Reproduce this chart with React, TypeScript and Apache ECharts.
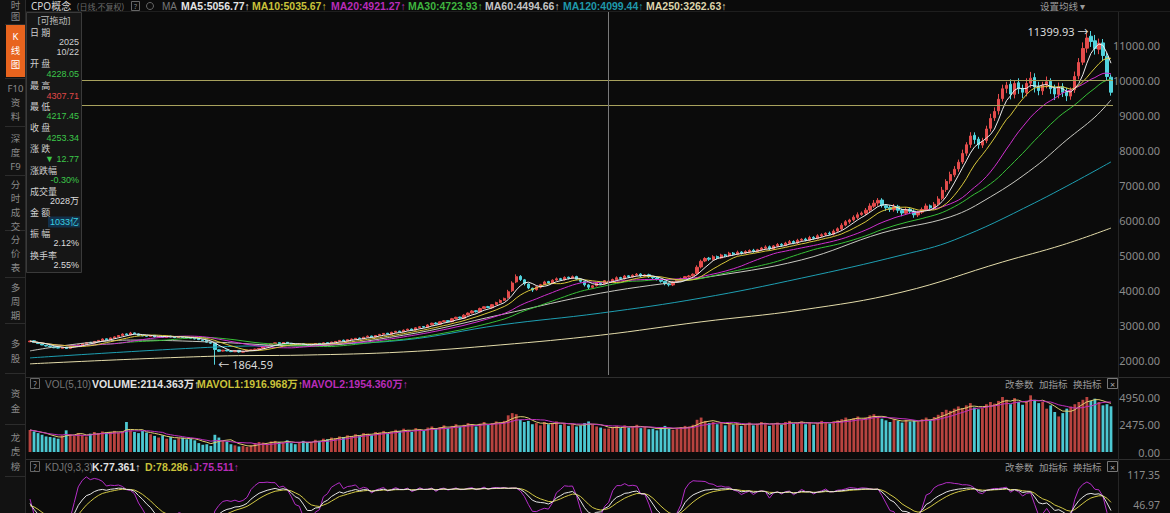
import React, { useEffect, useRef } from "react";
import * as echarts from "echarts";

// ---------- data ----------
const closes = [
  2540, 2500, 2470, 2430, 2400, 2380, 2350, 2340, 2360, 2330,
  2380, 2420, 2430, 2470, 2500, 2490, 2530, 2560, 2600, 2580,
  2630, 2660, 2700, 2740, 2720, 2770, 2750, 2700, 2690, 2680,
  2700, 2660, 2670, 2650, 2680, 2660, 2640, 2670, 2650, 2630,
  2620, 2600, 2580, 2560, 2510, 2480, 2300, 2250, 2280, 2260,
  2240, 2270, 2230, 2250, 2280, 2290, 2310, 2330, 2380, 2420,
  2460, 2490, 2470, 2500, 2480, 2450, 2430, 2460, 2440, 2420,
  2450, 2470, 2460, 2490, 2480, 2510, 2530, 2560, 2540, 2580,
  2600, 2620, 2610, 2650, 2680, 2660, 2700, 2730, 2760, 2740,
  2790, 2820, 2810, 2850, 2880, 2860, 2920, 2950, 2940, 3000,
  3050, 3030, 3090, 3120, 3100, 3180, 3220, 3200, 3280, 3340,
  3400, 3380, 3470, 3520, 3500, 3580, 3640, 3700, 3760, 3950,
  4200, 4380, 4300, 4180, 4060, 4000, 4090, 4150, 4230, 4200,
  4280, 4320, 4300, 4360, 4340, 4380, 4310, 4250, 4150, 4080,
  4120, 4200, 4180, 4266.11, 4253.34, 4300, 4350, 4330, 4400, 4380,
  4420, 4450, 4400, 4430, 4380, 4350, 4300, 4250, 4180, 4150,
  4230, 4280, 4320, 4380, 4400, 4450, 4650, 4820, 4900, 4880,
  4950, 4920, 5000, 4980, 5050, 5020, 5080, 5060, 5100, 5130,
  5110, 5150, 5200, 5230, 5180, 5260, 5300, 5280, 5340, 5380,
  5350, 5420, 5450, 5430, 5500, 5480, 5550, 5580, 5620, 5600,
  5680, 5750, 5850, 5950, 6000, 6080, 6150, 6200, 6280, 6400,
  6480, 6560, 6420, 6350, 6300, 6380, 6280, 6200, 6300, 6250,
  6150, 6220, 6300, 6400, 6350, 6450, 6600, 6850, 7100, 7300,
  7450, 7650, 7900, 8150, 8400, 8300, 8150, 8250, 8600, 8900,
  9100, 9450, 9750, 9850, 9600, 9900, 9750, 9650, 9900, 10050,
  9800, 9700, 9850, 9950, 9750, 9600, 9800, 9650, 9550, 9700,
  10100, 10500, 10900, 11200, 11100, 10900, 11050, 10700, 10100, 9650,
];

const opens = [
  2520, 2550, 2500, 2460, 2420, 2400, 2375, 2355, 2335, 2365,
  2335, 2375, 2425, 2425, 2465, 2505, 2485, 2535, 2555, 2605,
  2585, 2625, 2665, 2700, 2745, 2715, 2775, 2745, 2705, 2685,
  2675, 2705, 2655, 2675, 2645, 2685, 2655, 2645, 2665, 2655,
  2635, 2615, 2605, 2575, 2565, 2505, 2470, 2290, 2255, 2285,
  2255, 2235, 2275, 2225, 2255, 2275, 2295, 2315, 2335, 2385,
  2415, 2465, 2495, 2465, 2505, 2475, 2455, 2425, 2465, 2435,
  2415, 2455, 2475, 2455, 2495, 2475, 2515, 2535, 2565, 2535,
  2585, 2595, 2625, 2605, 2655, 2685, 2655, 2705, 2735, 2765,
  2735, 2795, 2825, 2805, 2855, 2885, 2855, 2925, 2955, 2935,
  3005, 3055, 3025, 3095, 3125, 3095, 3185, 3225, 3195, 3285,
  3345, 3405, 3375, 3475, 3525, 3495, 3585, 3645, 3705, 3780,
  3980, 4230, 4390, 4290, 4170, 4050, 4010, 4080, 4160, 4240,
  4195, 4285, 4325, 4295, 4365, 4335, 4385, 4305, 4245, 4145,
  4075, 4125, 4205, 4175, 4228.05, 4250, 4295, 4355, 4325, 4405,
  4375, 4425, 4455, 4395, 4435, 4375, 4345, 4305, 4245, 4175,
  4145, 4235, 4275, 4325, 4375, 4405, 4470, 4660, 4830, 4910,
  4875, 4955, 4915, 5005, 4975, 5055, 5015, 5085, 5055, 5095,
  5135, 5105, 5155, 5195, 5235, 5175, 5255, 5305, 5275, 5335,
  5385, 5345, 5425, 5455, 5425, 5505, 5475, 5545, 5585, 5625,
  5595, 5685, 5745, 5855, 5945, 6005, 6075, 6155, 6195, 6285,
  6395, 6485, 6570, 6410, 6360, 6295, 6390, 6275, 6195, 6310,
  6255, 6145, 6225, 6295, 6405, 6345, 6455, 6620, 6870, 7120,
  7290, 7460, 7660, 7910, 8160, 8420, 8310, 8140, 8270, 8620,
  8920, 9120, 9470, 9760, 9880, 9590, 9920, 9760, 9640, 9910,
  10070, 9810, 9690, 9860, 9960, 9760, 9590, 9810, 9660, 9540,
  9720, 10120, 10510, 10910, 11250, 11120, 10880, 11060, 10680, 10080,
];

// wick lengths, in thousandths of the body's edge
const upperWicks = [
  4, 6, 3, 5, 2, 4, 3, 6, 5, 2, 5, 3, 4, 6, 3, 5, 2, 4, 7, 3,
  4, 6, 3, 8, 5, 12, 4, 3, 6, 2, 5, 3, 4, 2, 6, 3, 4, 5, 2, 3,
  4, 3, 5, 2, 3, 6, 4, 5, 3, 2, 3, 5, 2, 4, 3, 2, 5, 3, 6, 4,
  5, 3, 6, 2, 4, 3, 5, 2, 4, 3, 3, 5, 2, 6, 3, 4, 5, 3, 7, 4,
  5, 3, 6, 4, 8, 3, 5, 6, 4, 3, 6, 4, 3, 8, 5, 4, 6, 3, 5, 7,
  5, 8, 4, 6, 3, 7, 5, 4, 9, 6, 7, 5, 8, 4, 6, 5, 7, 9, 6, 14,
  12, 15, 8, 6, 5, 4, 7, 6, 8, 5, 6, 9, 5, 7, 4, 8, 5, 6, 4, 7,
  5, 6, 8, 4, 0, 6, 9, 5, 7, 4, 6, 8, 5, 4, 7, 5, 6, 4, 5, 7,
  6, 5, 8, 4, 7, 6, 12, 10, 8, 7, 9, 6, 7, 5, 8, 6, 9, 5, 7, 6,
  8, 5, 6, 9, 7, 5, 8, 6, 7, 9, 6, 8, 5, 7, 9, 6, 8, 7, 5, 8,
  9, 7, 10, 8, 6, 9, 11, 7, 10, 12, 14, 10, 8, 6, 9, 12, 7, 8, 10, 6,
  8, 7, 9, 11, 6, 10, 12, 14, 9, 11, 12, 10, 14, 9, 13, 10, 8, 12, 11, 15,
  13, 16, 12, 10, 14, 9, 13, 11, 15, 18, 12, 14, 10, 15, 9, 11, 13, 10, 12, 9,
  14, 12, 16, 13, 0, 15, 12, 10, 9, 8,
];

const lowerWicks = [
  3, 5, 4, 2, 6, 3, 5, 4, 3, 6, 4, 2, 5, 3, 4, 6, 3, 5, 2, 4,
  3, 5, 4, 2, 6, 3, 5, 7, 4, 3, 4, 6, 3, 5, 2, 4, 6, 3, 5, 4,
  5, 3, 4, 6, 5, 8, 0, 10, 6, 5, 7, 4, 9, 5, 3, 6, 4, 5, 3, 4,
  3, 5, 4, 6, 3, 5, 4, 3, 6, 5, 4, 3, 6, 2, 5, 4, 3, 6, 4, 3,
  5, 4, 3, 6, 4, 7, 3, 5, 4, 6, 4, 6, 5, 3, 7, 5, 4, 6, 5, 3,
  6, 5, 7, 4, 8, 5, 6, 7, 4, 5, 5, 7, 4, 6, 5, 8, 4, 6, 5, 7,
  9, 8, 10, 12, 9, 14, 7, 8, 6, 9, 7, 5, 8, 6, 9, 5, 7, 10, 12, 14,
  8, 6, 9, 5, 0, 7, 5, 8, 6, 9, 5, 7, 9, 6, 8, 10, 7, 9, 11, 12,
  8, 6, 5, 7, 4, 6, 8, 9, 7, 10, 6, 9, 5, 8, 6, 7, 5, 9, 6, 7,
  9, 6, 7, 8, 10, 6, 7, 9, 5, 7, 8, 6, 9, 7, 5, 8, 6, 7, 9, 6,
  7, 5, 8, 6, 9, 7, 8, 6, 9, 10, 8, 12, 10, 14, 11, 9, 13, 15, 8, 12,
  14, 10, 8, 6, 12, 9, 7, 8, 10, 12, 9, 11, 8, 10, 12, 15, 14, 10, 9, 11,
  10, 12, 9, 14, 16, 12, 15, 17, 11, 13, 16, 14, 12, 10, 15, 18, 12, 14, 16, 11,
  9, 10, 8, 12, 14, 16, 13, 15, 12, 10,
];

// volume, 万
const volumes = [
  1980, 1850, 1700, 1550, 1400, 1350, 1300, 1200, 1500, 1950,
  1600, 1450, 1700, 1550, 1400, 1650, 1800, 1700, 1850, 1750,
  1800, 1900, 1750, 1850, 2700, 1950, 1800, 1700, 1900, 1750,
  1600, 1450, 1300, 1500, 1200, 1350, 1100, 1250, 1300, 1150,
  1200, 1050, 800, 650, 700, 550, 1550, 1300, 1000, 950,
  700, 600, 500, 550, 450, 600, 800, 900, 850, 750,
  950, 1000, 900, 850, 1050, 800, 700, 900, 1000, 850,
  900, 1100, 1000, 1200, 1150, 1300, 1250, 1400, 1350, 1500,
  1450, 1600, 1500, 1700, 1650, 1550, 1800, 1750, 1900, 1700,
  1850, 2000, 1900, 2100, 1950, 1800, 2150, 2050, 1900, 2200,
  2300, 2100, 2250, 2400, 2150, 2350, 2500, 2300, 2450, 2600,
  2500, 2300, 2550, 2700, 2450, 2600, 2750, 2650, 2800, 3300,
  3500, 3400, 2900, 2700, 2800, 2500, 2600, 2400, 2700, 2500,
  2600, 2750, 2450, 2600, 2350, 2500, 2300, 2400, 2600, 2750,
  2450, 2300, 2200, 2100, 2114, 2250, 2350, 2150, 2400, 2200,
  2300, 2450, 2150, 2250, 2050, 2100, 1950, 2200, 2350, 2100,
  2000, 2150, 2250, 2350, 2300, 2450, 2900, 3100, 2800, 2600,
  2700, 2500, 2650, 2400, 2550, 2450, 2600, 2350, 2500, 2650,
  2400, 2550, 2700, 2600, 2350, 2500, 2650, 2450, 2700, 2800,
  2550, 2650, 2750, 2500, 2700, 2450, 2600, 2800, 2700, 2550,
  2750, 2850, 2950, 3100, 2900, 3050, 3200, 2950, 3100, 3300,
  3400, 3250, 3000, 2850, 2700, 2950, 2800, 2650, 2900, 2750,
  2850, 2700, 2950, 3100, 2900, 3150, 3350, 3600, 3800, 3700,
  3900, 4100, 3950, 4200, 4400, 4000, 3850, 3950, 4300, 4500,
  4350, 4600, 4950, 4700, 4300, 4850, 4500, 4250, 4600, 5100,
  4700, 4400, 4500, 3900, 4200, 3600, 3200, 3500, 3900, 4100,
  4300, 4500, 4700, 4950, 4600, 4800, 4500, 4200, 4300, 4114,
];

// long moving averages: [candle index, value]
const ma60Points = [
  [0, 2260], [25, 2570], [46, 2510], [68, 2400], [93, 2710], [117, 3290],
  [142, 3910], [167, 4340], [192, 4860], [212, 5630], [229, 6090],
  [239, 6660], [250, 7510], [258, 8290], [265, 8940], [269, 9430],
];
const ma120Points = [
  [0, 2060], [46, 2370], [68, 2430], [93, 2570], [117, 3000], [142, 3340],
  [167, 3770], [192, 4340], [217, 5000], [230, 5430], [250, 6490], [269, 7660],
];
const ma250Points = [
  [0, 1890], [46, 2110], [68, 2140], [93, 2230], [117, 2430], [142, 2710],
  [167, 3090], [192, 3430], [217, 3940], [242, 4800], [257, 5290], [269, 5770],
];

const priceTicks = [2000, 3000, 4000, 5000, 6000, 7000, 8000, 9000, 10000, 11000];
const volumeTicks = [0, 2475, 4950];
const kdjTicks = [46.97, 117.35];
const levelLines = [10000, 9290];
const extremeHigh = { index: 264, value: 11399.93 };
const extremeLow = { index: 46, value: 1864.59 };
const crosshairIndex = 144;
const crosshairHigh = 4307.71;
const crosshairLow = 4217.45;

const maHeader = [
  { text: "MA5:5056.77↑", x: 181, color: "#e4e4e4" },
  { text: "MA10:5035.67↑", x: 252, color: "#c9c23a" },
  { text: "MA20:4921.27↑", x: 331, color: "#b82cb8" },
  { text: "MA30:4723.93↑", x: 408, color: "#3fb43f" },
  { text: "MA60:4494.66↑", x: 485, color: "#c4c4c4" },
  { text: "MA120:4099.44↑", x: 563, color: "#1f98aa" },
  { text: "MA250:3262.63↑", x: 646, color: "#ddd4ac" },
];

const infoRows = [
  { label: "日 期", ly: 32, values: [{ t: "2025", y: 42, c: "#cfcfcf" }, { t: "10/22", y: 52, c: "#cfcfcf" }] },
  { label: "开 盘", ly: 63, values: [{ t: "4228.05", y: 74, c: "#3cc84a" }] },
  { label: "最 高", ly: 85, values: [{ t: "4307.71", y: 96, c: "#e04848" }] },
  { label: "最 低", ly: 106, values: [{ t: "4217.45", y: 116, c: "#3cc84a" }] },
  { label: "收 盘", ly: 127, values: [{ t: "4253.34", y: 138, c: "#3cc84a" }] },
  { label: "涨 跌", ly: 148, values: [{ t: "▼ 12.77", y: 159, c: "#3cc84a" }] },
  { label: "涨跌幅", ly: 170, values: [{ t: "-0.30%", y: 180, c: "#3cc84a" }] },
  { label: "成交量", ly: 191, values: [{ t: "2028万", y: 201, c: "#dcdcdc" }] },
  { label: "金 额", ly: 212, values: [{ t: "1033亿", y: 222, c: "#3ad0e0" }] },
  { label: "振 幅", ly: 233, values: [{ t: "2.12%", y: 243, c: "#dcdcdc" }] },
  { label: "换手率", ly: 255, values: [{ t: "2.55%", y: 265, c: "#dcdcdc" }] },
];

const sideTabs = [
  { chars: [["时", 5], ["图", 16]] },
  { chars: [["K", 36], ["线", 50], ["图", 64]], active: true },
  { chars: [["F10", 88], ["资", 102], ["料", 116]] },
  { chars: [["深", 138], ["度", 152], ["F9", 166]] },
  { chars: [["分", 184], ["时", 198], ["成", 212], ["交", 226]] },
  { chars: [["分", 239], ["价", 253], ["表", 267]] },
  { chars: [["多", 287], ["周", 301], ["期", 315]] },
  { chars: [["多", 343], ["股", 358]] },
  { chars: [["资", 393], ["金", 408]] },
  { chars: [["龙", 437], ["虎", 451], ["榜", 466]] },
];
const sideSeparators = [24, 78, 126, 175, 230, 277, 323, 373, 424, 476];

// ---------- derived tables ----------
const categories = closes.map((_, i) => `D${i + 1}`);

function movingAverage(values: number[], n: number) {
  return values.map((_, i) => {
    const s = Math.max(0, i - n + 1);
    let sum = 0;
    for (let k = s; k <= i; k++) sum += values[k];
    return +(sum / (i - s + 1)).toFixed(2);
  });
}

const FONT = "'Noto Sans', 'Noto Sans CJK SC', sans-serif";
const FONT_NARROW = "'Liberation Sans', 'Noto Sans CJK SC', sans-serif";

export default function App() {
  const ref = useRef<HTMLDivElement>(null);

  useEffect(() => {
    if (!ref.current) return;
    const chart = echarts.init(ref.current, undefined, { renderer: "svg" });

    const candleData = closes.map((c, i) => {
      const o = opens[i];
      let hi = Math.max(o, c) * (1 + upperWicks[i] / 1000);
      let lo = Math.min(o, c) * (1 - lowerWicks[i] / 1000);
      if (i === crosshairIndex) {
        hi = crosshairHigh;
        lo = crosshairLow;
      }
      if (i === extremeHigh.index) hi = extremeHigh.value;
      if (i === extremeLow.index) lo = extremeLow.value;
      return [o, c, +lo.toFixed(2), +hi.toFixed(2)];
    });
    const highs = candleData.map((d) => d[3]);
    const lows = candleData.map((d) => d[2]);

    // KDJ(9,3,3)
    const kArr: number[] = [];
    const dArr: number[] = [];
    const jArr: number[] = [];
    let k = 50;
    let d = 50;
    closes.forEach((c, i) => {
      const s = Math.max(0, i - 8);
      let hh = -Infinity;
      let ll = Infinity;
      for (let t = s; t <= i; t++) {
        hh = Math.max(hh, highs[t]);
        ll = Math.min(ll, lows[t]);
      }
      const rsv = hh === ll ? 50 : ((c - ll) / (hh - ll)) * 100;
      k = (2 * k + rsv) / 3;
      d = (2 * d + k) / 3;
      kArr.push(+k.toFixed(2));
      dArr.push(+d.toFixed(2));
      jArr.push(+(3 * k - 2 * d).toFixed(2));
    });

    const UP = "#e44c4c";
    const DOWN = "#52d4de";

    const g: any[] = [];
    const txt = (
      x: number,
      y: number,
      text: string,
      fill: string,
      size = 10,
      align = "left",
      weight = "normal",
      family = FONT
    ) =>
      g.push({
        type: "text",
        x,
        y,
        z: 100,
        style: {
          text,
          fill,
          fontSize: size,
          fontFamily: family,
          fontWeight: weight,
          align,
          textAlign: align,
          verticalAlign: "middle",
          textVerticalAlign: "middle",
        },
      });
    const rect = (x: number, y: number, w: number, h: number, fill: string, stroke?: string) =>
      g.push({
        type: "rect",
        z: 99,
        shape: { x, y, width: w, height: h },
        style: { fill, stroke: stroke || null, lineWidth: 1 },
      });
    const line = (x1: number, y1: number, x2: number, y2: number, stroke: string) =>
      g.push({
        type: "line",
        z: 99,
        shape: { x1, y1, x2, y2 },
        style: { stroke, lineWidth: 1 },
      });

    // frame lines
    line(26, 11.5, 1170, 11.5, "#1e1e1e");
    line(26, 377.5, 1170, 377.5, "#2e2e2e");
    line(26, 459.5, 1170, 459.5, "#2e2e2e");
    line(1118.5, 12, 1118.5, 513, "#262626");

    // sidebar
    rect(0, 0, 26, 513, "#121212");
    line(25.5, 0, 25.5, 513, "#2a2a2a");
    sideSeparators.forEach((y) => line(5, y + 0.5, 25, y + 0.5, "#2c2c2c"));
    sideTabs.forEach((tab) => {
      if (tab.active) rect(6, 25, 19, 52, "#e8641e");
      tab.chars.forEach(([ch, y]) =>
        txt(15.5, y as number, ch as string, tab.active ? "#ffffff" : "#8a8a8a", 9.5, "center")
      );
    });

    // info panel
    rect(26.5, 12.5, 55, 260, "#161616", "#3a3a3a");
    txt(54, 20, "[可拖动]", "#bdbdbd", 9, "center");
    infoRows.forEach((r) => {
      txt(30, r.ly, r.label, "#cfcfcf", 9);
      r.values.forEach((v) => {
        if (v.t === "1033亿") rect(48, v.y - 5.5, 32, 11, "#12304a");
        txt(79, v.y, v.t, v.c, 9, "right", "normal", FONT_NARROW);
      });
    });

    // main header
    const HY = 6;
    txt(31, HY, "CPO概念", "#d8d8d8", 10);
    txt(77, HY, "(日线,不复权)", "#6a6a6a", 8);
    rect(131.5, 1.5, 8, 9, "rgba(0,0,0,0)", "#666");
    txt(135.5, HY, "?", "#888", 7, "center");
    g.push({
      type: "circle",
      z: 100,
      shape: { cx: 150, cy: HY, r: 3.5 },
      style: { fill: "none", stroke: "#666", lineWidth: 1 },
    });
    txt(162, HY, "MA", "#777", 10, "left", "normal", FONT_NARROW);
    maHeader.forEach((m) => txt(m.x, HY, m.text, m.color, 10.5, "left", "bold", FONT_NARROW));
    txt(1040, HY, "设置均线 ▾", "#9a9a9a", 9.5);

    // panel headers
    const subHeader = (y: number, name: string, items: { t: string; x: number; c: string }[]) => {
      rect(30.5, y - 5.5, 9, 10, "rgba(0,0,0,0)", "#666");
      txt(35, y, "?", "#999", 8, "center");
      txt(45, y, name, "#777", 10, "left", "normal", FONT_NARROW);
      items.forEach((it) => txt(it.x, y, it.t, it.c, 10.5, "left", "bold", FONT_NARROW));
      txt(1005, y, "改参数", "#9a9a9a", 9.5);
      txt(1039, y, "加指标", "#9a9a9a", 9.5);
      txt(1073, y, "换指标", "#9a9a9a", 9.5);
      rect(1107.5, y - 5.5, 10, 10, "rgba(0,0,0,0)", "#777");
      txt(1112.5, y, "×", "#aaa", 9, "center");
    };
    subHeader(384, "VOL(5,10)", [
      { t: "VOLUME:2114.363万↑", x: 92, c: "#e2e2e2" },
      { t: "MAVOL1:1916.968万↑", x: 197, c: "#c9c23a" },
      { t: "MAVOL2:1954.360万↑", x: 302, c: "#b82cb8" },
    ]);
    subHeader(467, "KDJ(9,3,3)", [
      { t: "K:77.361↑", x: 92, c: "#e2e2e2" },
      { t: "D:78.286↓", x: 145, c: "#c9c23a" },
      { t: "J:75.511↑", x: 193, c: "#b82cb8" },
    ]);

    const axisLabelBase = {
      color: "#8a8a8a",
      fontSize: 11,
      fontFamily: FONT,
      align: "right",
      margin: 47,
      formatter: (v: number) => v.toFixed(2),
    };
    const yBase = {
      type: "value",
      position: "right",
      splitLine: { show: false },
      axisLine: { show: false },
      axisTick: { show: false },
    };
    const xBase = {
      type: "category",
      data: categories,
      boundaryGap: true,
      axisLine: { show: false },
      axisTick: { show: false },
      axisLabel: { show: false },
      splitLine: { show: false },
    };
    const gridBase = { left: 28, right: 57, containLabel: false, outerBoundsMode: "none" };

    const maLine = (name: string, data: any, color: string, smooth: any = false) => ({
      name,
      type: "line",
      xAxisIndex: 0,
      yAxisIndex: 0,
      data,
      symbol: "none",
      smooth,
      lineStyle: { color, width: 1 },
      z: 3,
    });

    chart.setOption({
      animation: false,
      backgroundColor: "#0b0b0b",
      grid: [
        { ...gridBase, top: 12, height: 363 },
        { ...gridBase, top: 390, height: 65 },
        { ...gridBase, top: 472, height: 41 },
      ],
      xAxis: [
        { ...xBase, gridIndex: 0 },
        { ...xBase, gridIndex: 1 },
        { ...xBase, gridIndex: 2 },
      ],
      yAxis: [
        {
          ...yBase,
          gridIndex: 0,
          min: 1571.43,
          max: 11942.86,
          axisLabel: { ...axisLabelBase, customValues: priceTicks },
        },
        {
          ...yBase,
          gridIndex: 1,
          min: -270,
          max: 5580,
          axisLabel: { ...axisLabelBase, customValues: volumeTicks },
        },
        {
          ...yBase,
          gridIndex: 2,
          min: 35.24,
          max: 131.43,
          axisLabel: {
            ...axisLabelBase,
            fontSize: 10.5,
            verticalAlign: "bottom",
            lineHeight: 12,
            padding: [0, 0, -3, 0],
            customValues: kdjTicks,
          },
        },
      ],
      graphic: { elements: g },
      series: [
        {
          name: "K",
          type: "candlestick",
          xAxisIndex: 0,
          yAxisIndex: 0,
          data: candleData,
          barWidth: "70%",
          itemStyle: {
            color: UP,
            color0: DOWN,
            borderColor: UP,
            borderColor0: DOWN,
            borderWidth: 1,
          },
          markLine: {
            silent: true,
            symbol: ["none", "none"],
            label: { show: false },
            data: [
              ...levelLines.map((v) => ({
                yAxis: v,
                lineStyle: { color: "#a8a25e", width: 1, type: "solid" },
              })),
              { xAxis: crosshairIndex, lineStyle: { color: "#7a7a7a", width: 1, type: "solid" } },
            ],
          },
          markPoint: {
            symbol: "circle",
            symbolSize: 1,
            itemStyle: { color: "rgba(0,0,0,0)" },
            data: [
              {
                coord: [extremeHigh.index, extremeHigh.value],
                label: {
                  show: true,
                  position: "left",
                  distance: 2,
                  formatter: `${extremeHigh.value.toFixed(2)} →`,
                  color: "#dcdcdc",
                  fontSize: 11,
                  fontFamily: FONT,
                },
              },
              {
                coord: [extremeLow.index, extremeLow.value],
                label: {
                  show: true,
                  position: "right",
                  distance: 3,
                  formatter: `← ${extremeLow.value.toFixed(2)}`,
                  color: "#dcdcdc",
                  fontSize: 11,
                  fontFamily: FONT,
                },
              },
            ],
          },
        },
        maLine("MA250", ma250Points, "#e4dcaa", 0.4),
        maLine("MA120", ma120Points, "#1e9fb2", 0.4),
        maLine("MA60", ma60Points, "#c9c9c2", 0.4),
        maLine("MA30", movingAverage(closes, 30), "#38c038"),
        maLine("MA20", movingAverage(closes, 20), "#cf30cf"),
        maLine("MA10", movingAverage(closes, 10), "#d8c83c"),
        maLine("MA5", movingAverage(closes, 5), "#ececec"),
        {
          name: "VOL",
          type: "bar",
          xAxisIndex: 1,
          yAxisIndex: 1,
          barWidth: "70%",
          data: volumes.map((v, i) => ({
            value: v,
            itemStyle: { color: closes[i] >= opens[i] ? "#b8433f" : "#4cc8d2" },
          })),
        },
        {
          name: "MAVOL1",
          type: "line",
          xAxisIndex: 1,
          yAxisIndex: 1,
          data: movingAverage(volumes, 5),
          symbol: "none",
          lineStyle: { color: "#e0d070", width: 1 },
        },
        {
          name: "MAVOL2",
          type: "line",
          xAxisIndex: 1,
          yAxisIndex: 1,
          data: movingAverage(volumes, 10),
          symbol: "none",
          lineStyle: { color: "#c030c0", width: 1 },
        },
        {
          name: "J",
          type: "line",
          xAxisIndex: 2,
          yAxisIndex: 2,
          data: jArr,
          symbol: "none",
          clip: true,
          lineStyle: { color: "#b52ec8", width: 1 },
        },
        {
          name: "D",
          type: "line",
          xAxisIndex: 2,
          yAxisIndex: 2,
          data: dArr,
          symbol: "none",
          clip: true,
          lineStyle: { color: "#d2c845", width: 1 },
        },
        {
          name: "Kline",
          type: "line",
          xAxisIndex: 2,
          yAxisIndex: 2,
          data: kArr,
          symbol: "none",
          clip: true,
          lineStyle: { color: "#e6e6e6", width: 1 },
        },
      ],
    });

    return () => chart.dispose();
  }, []);

  return (
    <div
      ref={ref}
      style={{ position: "absolute", left: 0, top: 0, width: 1170, height: 513, background: "#0b0b0b" }}
    />
  );
}
